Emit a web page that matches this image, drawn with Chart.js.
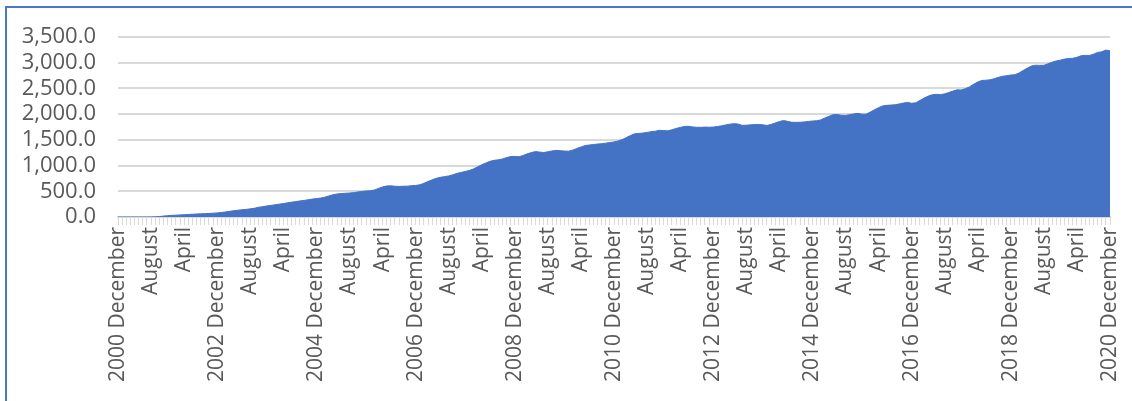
<!DOCTYPE html>
<html>
<head>
<meta charset="utf-8">
<script src="https://cdn.jsdelivr.net/npm/chart.js@4"></script>
<style>
  html, body { margin: 0; padding: 0; background: #fff; overflow: hidden; }
  #frame {
    position: absolute; left: 5px; top: 6px;
    width: 1140px; height: 410px;
    border: 2px solid #4a77c6;
  }
  #wrap { position: absolute; left: 0; top: 0; width: 1132px; height: 401px; }
</style>
</head>
<body>
<div id="frame"></div>
<div id="wrap"><canvas id="areaChart" width="1132" height="401"></canvas></div>
<script>
// monthly totals, December 2000 .. December 2020
const values = [
  0, // 2000 Dec
  0, 0, 0, 0, 0, 0, 0, 1, 3, 8, 18, 26, // 2001
  32, 36, 40, 44, 49, 54, 58, 62, 65, 69, 74, 80, // 2002
  88, 98, 110, 122, 132, 140, 148, 158, 170, 190, 200, 215, // 2003
  226, 237, 250, 262, 275, 288, 300, 312, 322, 335, 348, 358, // 2004
  368, 385, 410, 432, 448, 455, 462, 466, 474, 486, 497, 505, // 2005
  510, 525, 555, 585, 603, 606, 598, 595, 598, 600, 608, 614, // 2006
  625, 655, 690, 722, 752, 772, 785, 798, 820, 848, 866, 885, // 2007
  905, 935, 975, 1015, 1050, 1082, 1102, 1112, 1128, 1155, 1175, 1178, // 2008
  1172, 1195, 1228, 1252, 1272, 1262, 1254, 1268, 1285, 1294, 1290, 1282, // 2009
  1280, 1300, 1332, 1360, 1388, 1400, 1408, 1418, 1426, 1436, 1448, 1460, // 2010
  1478, 1505, 1545, 1585, 1618, 1625, 1632, 1645, 1660, 1668, 1685, 1680, // 2011
  1675, 1695, 1720, 1742, 1760, 1764, 1752, 1745, 1744, 1748, 1746, 1748, // 2012
  1760, 1772, 1790, 1805, 1815, 1808, 1782, 1785, 1792, 1798, 1800, 1792, // 2013
  1780, 1800, 1828, 1855, 1876, 1860, 1842, 1840, 1842, 1848, 1858, 1866, // 2014
  1872, 1888, 1925, 1958, 1988, 1992, 1978, 1975, 1990, 2005, 2015, 2000, // 2015
  2000, 2040, 2085, 2125, 2160, 2172, 2176, 2182, 2198, 2215, 2228, 2212, // 2016
  2220, 2265, 2312, 2350, 2378, 2385, 2378, 2395, 2420, 2448, 2472, 2470, // 2017
  2495, 2530, 2580, 2625, 2655, 2660, 2668, 2690, 2715, 2735, 2748, 2760, // 2018
  2768, 2800, 2850, 2895, 2935, 2952, 2948, 2950, 2978, 3010, 3035, 3050, // 2019
  3070, 3082, 3085, 3105, 3135, 3142, 3140, 3165, 3200, 3212, 3245, 3232  // 2020
];

const monthNames = ["January", "February", "March", "April", "May", "June",
  "July", "August", "September", "October", "November", "December"];

// one label every 8 months along the axis
const xTickLabels = [
  "2000 December", "August", "April", "2002 December", "August", "April",
  "2004 December", "August", "April", "2006 December", "August", "April",
  "2008 December", "August", "April", "2010 December", "August", "April",
  "2012 December", "August", "April", "2014 December", "August", "April",
  "2016 December", "August", "April", "2018 December", "August", "April",
  "2020 December"
];
const labelEvery = 8;

const categories = [];
for (let i = 0; i < values.length; i++) {
  const m = (11 + i) % 12;
  const y = 2000 + Math.floor((11 + i) / 12);
  categories.push(y + " " + monthNames[m]);
}

const textColor = "#595959";
const gridColor = "#d9d9d9";

new Chart(document.getElementById("areaChart"), {
  type: "line",
  data: {
    labels: categories,
    datasets: [{
      data: values,
      fill: "origin",
      backgroundColor: "#4472c4",
      borderColor: "#4472c4",
      borderWidth: 1,
      pointRadius: 0,
      tension: 0
    }]
  },
  options: {
    responsive: false,
    animation: false,
    events: [],
    layout: { padding: { top: 37, right: 22, left: 0, bottom: 0 } },
    plugins: { legend: { display: false }, tooltip: { enabled: false } },
    scales: {
      x: {
        offset: false,
        afterFit: (scale) => {
          scale.height = 184;
          // rotated end labels fit inside the layout padding already
          scale.paddingLeft = 0;
          scale.paddingRight = 0;
        },
        grid: {
          drawOnChartArea: false,
          drawTicks: true,
          tickLength: 8,
          color: gridColor,
          lineWidth: 1
        },
        border: { display: true, color: gridColor, width: 2 },
        ticks: {
          autoSkip: false,
          maxRotation: 90,
          minRotation: 90,
          padding: 2,
          color: textColor,
          font: { family: "'Open Sans', sans-serif", size: 21 },
          callback: (val, i) => (i % labelEvery === 0 ? xTickLabels[i / labelEvery] : "")
        }
      },
      y: {
        min: 0,
        max: 3500,
        afterFit: (scale) => { scale.width = 118; },
        grid: { color: gridColor, lineWidth: 2, drawTicks: false },
        border: { display: false },
        ticks: {
          autoSkip: false,
          stepSize: 500,
          padding: 22,
          color: textColor,
          font: { family: "'Open Sans', sans-serif", size: 22 },
          callback: (v) => v.toLocaleString("en-US", { minimumFractionDigits: 1, maximumFractionDigits: 1 })
        }
      }
    }
  }
});
</script>
</body>
</html>
